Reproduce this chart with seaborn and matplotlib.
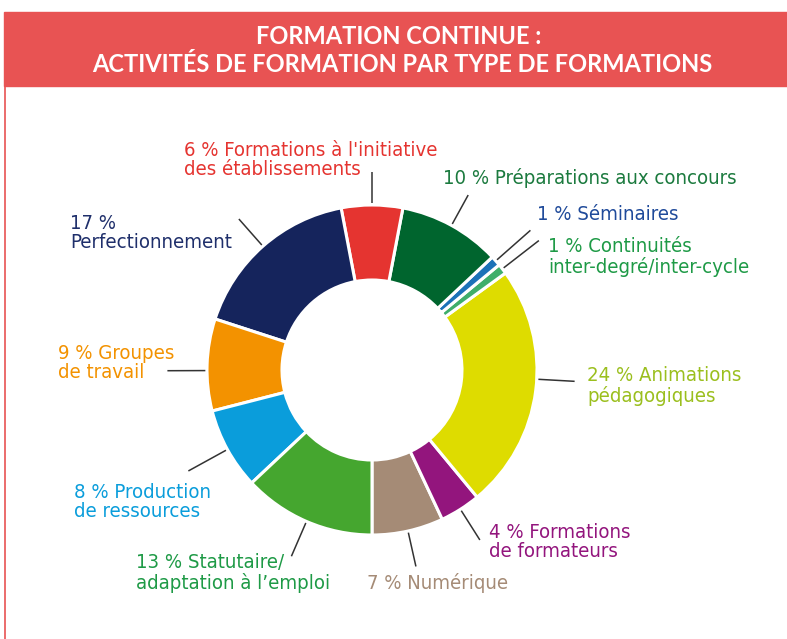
import numpy as np
import seaborn as sns
import matplotlib.pyplot as plt
from matplotlib.patches import Rectangle

# Data (counter-clockwise, starting at the bottom of the ring)
categories = ["Numérique", "Formations de formateurs", "Animations pédagogiques",
              "Continuités inter-degré/inter-cycle", "Séminaires",
              "Préparations aux concours", "Formations à l'initiative des établissements",
              "Perfectionnement", "Groupes de travail", "Production de ressources",
              "Statutaire/adaptation à l'emploi"]
shares = [7, 4, 24, 1, 1, 10, 6, 17, 9, 8, 13]
labels = ["7 % Numérique",
          "4 % Formations\nde formateurs",
          "24 % Animations\npédagogiques",
          "1 % Continuités\ninter-degré/inter-cycle",
          "1 % Séminaires",
          "10 % Préparations aux concours",
          "6 % Formations à l'initiative\ndes établissements",
          "17 %\nPerfectionnement",
          "9 % Groupes\nde travail",
          "8 % Production\nde ressources",
          "13 % Statutaire/\nadaptation à l\u2019emploi"]

wedge_colors = ["#A58B76", "#93157D", "#DEDC00", "#3FAE6A", "#1C72B8", "#00652E",
                "#E53430", "#15245C", "#F39200", "#0A9DDB", "#45A62F"]
text_colors = ["#A58B76", "#93157D", "#9BBF1E", "#1E9A46", "#1F4A9A", "#1B7A3E",
               "#E53430", "#1F2F6B", "#F39200", "#0A9DDB", "#1E9A46"]

# Layout (pixel coordinates, y measured from top)
W, H = 787, 639
cx, cy, R, ring = 372, 370, 165, 75
label_xy = [(367, 583), (489, 542), (587, 386), (548, 257), (537, 215), (443, 178),
            (184, 160), (70, 233), (58, 363), (74, 502), (136, 573)]
line_out = [1.22, 1.22, 1.23, 1.28, 1.28, 1.21, 1.20, 1.22, 1.24, 1.27, 1.23]
line_shift = [0, 0, 4, 0, 0, 0, 0, 0, 2, 0, 0]  # degrees

sns.set_theme(style="white")
plt.rcParams['font.family'] = ['DejaVu Sans']
plt.rcParams['font.stretch'] = 'condensed'

fig = plt.figure(figsize=(W / 100, H / 100), dpi=100)
ax = fig.add_axes([0, 0, 1, 1])

wedges, _ = ax.pie(shares, colors=wedge_colors, startangle=-90, counterclock=True,
                   center=(cx, H - cy), radius=R,
                   wedgeprops=dict(width=ring, edgecolor="white", linewidth=2.2))

# leader lines along the middle of each wedge
for w, k, s in zip(wedges, line_out, line_shift):
    ang = np.deg2rad((w.theta1 + w.theta2) / 2 + s)
    r0, r1 = R * 1.01, R * k
    ax.plot([cx + r0 * np.cos(ang), cx + r1 * np.cos(ang)],
            [H - cy + r0 * np.sin(ang), H - cy + r1 * np.sin(ang)],
            color="#333333", lw=1.1, solid_capstyle="butt")

for lab, (x, y), col in zip(labels, label_xy, text_colors):
    ax.text(x, H - y, lab, color=col, fontsize=14.6, ha="left", va="center",
            linespacing=1.05, fontstretch="condensed")

# header banner
ax.add_patch(Rectangle((4, H - 86), W - 4, 74, color="#E85353", zorder=0))
ax.plot([5, 5], [0, H - 86], color="#E85353", lw=1.2)
ax.text(399, H - 36, "FORMATION CONTINUE :", color="white", fontsize=17,
        fontweight="bold", ha="center", va="center", family=["Lato", "DejaVu Sans"],
        fontstretch="normal")
ax.text(402, H - 64, "ACTIVITÉS DE FORMATION PAR TYPE DE FORMATIONS", color="white",
        fontsize=17, fontweight="bold", ha="center", va="center",
        family=["Lato", "DejaVu Sans"], fontstretch="normal")

ax.set_xlim(0, W)
ax.set_ylim(0, H)
ax.set_aspect("equal")
ax.axis("off")

fig.savefig("out.png", dpi=100)
